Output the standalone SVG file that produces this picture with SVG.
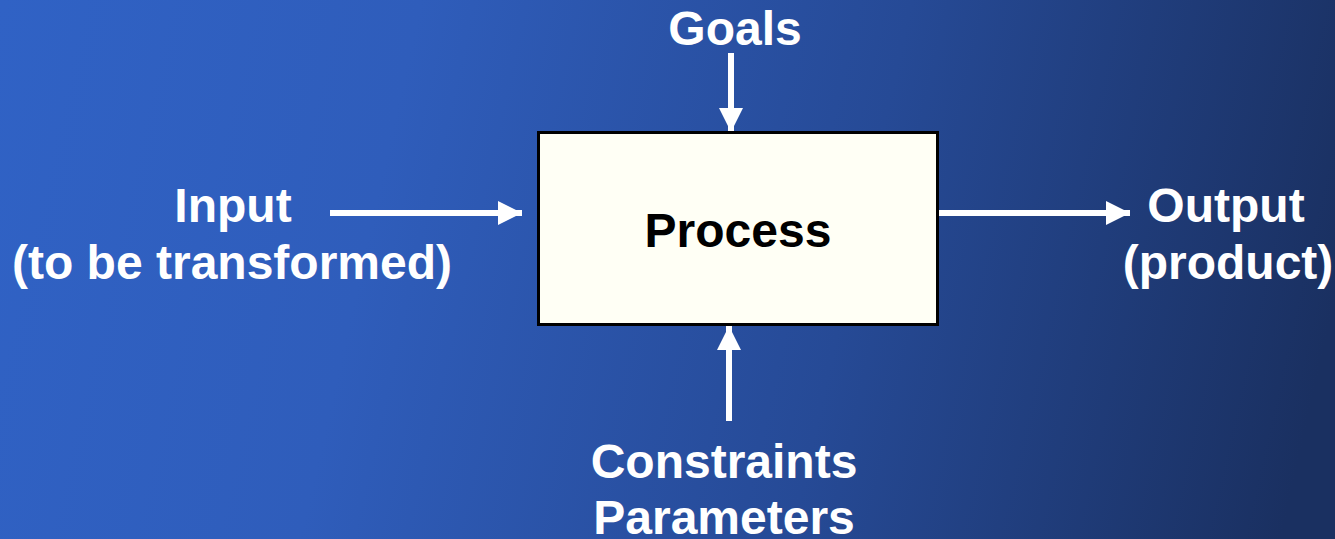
<svg xmlns="http://www.w3.org/2000/svg" width="1335" height="539" viewBox="0 0 1335 539">
  <defs>
    <linearGradient id="bg" x1="0" y1="0" x2="1335" y2="300" gradientUnits="userSpaceOnUse">
      <stop offset="0" stop-color="#3062C5"/>
      <stop offset="0.3" stop-color="#2F5DBB"/>
      <stop offset="0.65" stop-color="#264A96"/>
      <stop offset="1" stop-color="#1A3061"/>
    </linearGradient>
    <marker id="head" viewBox="0 0 24 24" refX="24" refY="12" markerWidth="24" markerHeight="24" markerUnits="userSpaceOnUse" orient="auto">
      <path d="M0,0 L24,12 L0,24 Z" fill="#FFFFFF"/>
    </marker>
    <style>
      .lbl { font-family: "Liberation Sans", Arial, sans-serif; font-weight: bold; font-size: 48px; fill: #FFFFFF; text-anchor: middle; }
      .dark { fill: #000000; }
      .wire { stroke: #FFFFFF; stroke-width: 6; fill: none; marker-end: url(#head); }
    </style>
  </defs>

  <rect x="0" y="0" width="1335" height="539" fill="url(#bg)"/>

  <g id="connectors">
    <line class="wire" x1="731" y1="53" x2="731" y2="132"/>
    <line class="wire" x1="330" y1="213" x2="522" y2="213"/>
    <line class="wire" x1="938" y1="213" x2="1130" y2="213"/>
    <line class="wire" x1="729" y1="421" x2="729" y2="326"/>
  </g>

  <g id="process">
    <rect x="538.5" y="132.5" width="399" height="192" fill="#FFFFF5" stroke="#000000" stroke-width="3"/>
    <text class="lbl dark" x="738" y="247">Process</text>
  </g>

  <g id="goals">
    <text class="lbl" x="735" y="45">Goals</text>
  </g>

  <g id="input">
    <text class="lbl" x="233" y="222">Input</text>
    <text class="lbl" x="232" y="279">(to be transformed)</text>
  </g>

  <g id="output">
    <text class="lbl" x="1226" y="222">Output</text>
    <text class="lbl" x="1228" y="279">(product)</text>
  </g>

  <g id="constraints">
    <text class="lbl" x="724" y="478">Constraints</text>
    <text class="lbl" x="724" y="534">Parameters</text>
  </g>
</svg>
